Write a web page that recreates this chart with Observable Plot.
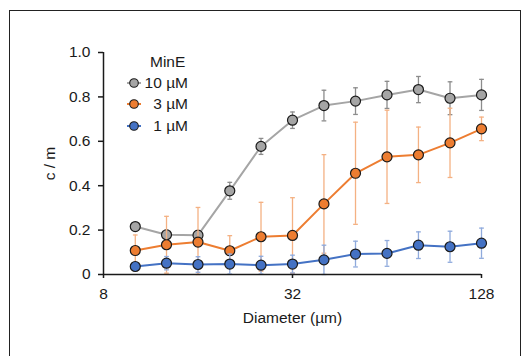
<!DOCTYPE html>
<html><head><meta charset="utf-8">
<script src="https://cdn.jsdelivr.net/npm/d3@7"></script>
<script src="https://cdn.jsdelivr.net/npm/@observablehq/plot@0.6"></script>
<style>
body{margin:0;background:#fff;font-family:"Liberation Sans",Arial,sans-serif;}
#wrap{position:relative;width:529px;height:356px;overflow:hidden;}
#frame{position:absolute;left:9px;top:10px;width:510px;height:420px;border:1.5px solid #222;pointer-events:none;}
#chart{position:absolute;left:0;top:0;}
#legend{position:absolute;left:0;top:0;font-size:15.5px;color:#1a1a1a;}
.lg{position:absolute;height:18px;line-height:18px;white-space:pre;}
</style></head>
<body><div id="wrap"><div id="chart"></div><div id="legend"></div><div id="frame"></div></div>
<script>
// Data
const diameters = [10.1, 12.7, 16, 20.2, 25.4, 32, 40.3, 50.8, 64, 80.6, 101.6, 128];
const seriesNames = ["10 µM", "3 µM", "1 µM"];
const seriesColors = ["#A5A5A5", "#ED7D31", "#4472C4"];
const errColors = ["#8C8C8C", "#F4B183", "#8FAADC"];
const y10 = [0.216, 0.179, 0.177, 0.377, 0.577, 0.695, 0.761, 0.781, 0.809, 0.833, 0.794, 0.809];
const e10 = [0.01, 0.02, 0.02, 0.038, 0.036, 0.037, 0.069, 0.06, 0.061, 0.059, 0.074, 0.07];
const y3 = [0.108, 0.134, 0.146, 0.107, 0.170, 0.176, 0.318, 0.456, 0.530, 0.539, 0.593, 0.656];
const e3 = [0.07, 0.128, 0.156, 0.068, 0.155, 0.17, 0.222, 0.23, 0.21, 0.125, 0.156, 0.053];
const y1 = [0.036, 0.051, 0.045, 0.047, 0.042, 0.047, 0.066, 0.092, 0.095, 0.132, 0.125, 0.141];
const e1 = [0.015, 0.03, 0.035, 0.045, 0.04, 0.04, 0.066, 0.058, 0.058, 0.06, 0.07, 0.068];
const xTicks = [8, 32, 128];
const yTicks = [0, 0.2, 0.4, 0.6, 0.8, 1.0];
const legendTitle = "MinE";

const values = [y10, y3, y1], errs = [e10, e3, e1];
const rows = [];
seriesNames.forEach((s, i) => diameters.forEach((d, j) => rows.push({
  series: s, idx: i, x: d, y: values[i][j],
  top: values[i][j] + errs[i][j], bot: Math.max(0, values[i][j] - errs[i][j])
})));

const capW = 0.025;
const marks = [];
seriesNames.forEach((s, i) => {
  const data = rows.filter(r => r.series === s);
  marks.push(
    Plot.ruleX(data, {x: "x", y1: "bot", y2: "top", stroke: errColors[i], strokeWidth: 1.3}),
    Plot.link(data, {x1: d => d.x * 2 ** -capW, x2: d => d.x * 2 ** capW, y1: "top", y2: "top", stroke: errColors[i], strokeWidth: 1.3}),
    Plot.link(data, {x1: d => d.x * 2 ** -capW, x2: d => d.x * 2 ** capW, y1: "bot", y2: "bot", stroke: errColors[i], strokeWidth: 1.3}),
    Plot.line(data, {x: "x", y: "y", stroke: seriesColors[i], strokeWidth: 2}),
    Plot.dot(data, {x: "x", y: "y", r: 5, fill: seriesColors[i], stroke: "#1a1a1a", strokeWidth: 1.2})
  );
});

const chart = Plot.plot({
  width: 529, height: 356,
  marginLeft: 103, marginRight: 48, marginTop: 52, marginBottom: 82,
  style: {fontFamily: "'Liberation Sans', Arial, sans-serif", fontSize: "15.5px", color: "#1a1a1a", background: "transparent"},
  x: {type: "log", base: 2, domain: [8, 128]},
  y: {domain: [0, 1]},
  marks: [
    ...marks,
    Plot.ruleX([8], {stroke: "#1a1a1a", strokeWidth: 1.5}),
    Plot.ruleY([0], {stroke: "#1a1a1a", strokeWidth: 1.5}),
    Plot.axisY({ticks: yTicks, tickFormat: d => d === 0 ? "0" : d.toFixed(1), tickSize: 5, tickPadding: 8, strokeWidth: 1.5,
      label: "c / m", labelAnchor: "center", labelArrow: "none", labelOffset: 60}),
    Plot.axisX({ticks: xTicks, tickFormat: d => String(d), tickSize: 4, tickPadding: 9, strokeWidth: 1.5,
      label: "Diameter (µm)", labelAnchor: "center", labelArrow: "none", labelOffset: 48})
  ]
});
document.getElementById("chart").append(chart);

// Legend
const lg = document.getElementById("legend");
const t = document.createElement("div");
t.className = "lg"; t.style.left = "150px"; t.style.top = (62 - 9) + "px"; t.textContent = legendTitle;
lg.append(t);
const rowY = [83, 104, 126];
seriesNames.forEach((s, i) => {
  const sym = document.createElementNS("http://www.w3.org/2000/svg", "svg");
  sym.setAttribute("width", 16); sym.setAttribute("height", 12);
  sym.style.position = "absolute"; sym.style.left = "126px"; sym.style.top = (rowY[i] - 6) + "px";
  sym.innerHTML = `<line x1="1" y1="6" x2="15" y2="6" stroke="${seriesColors[i]}" stroke-width="2"/><circle cx="8" cy="6" r="4.3" fill="${seriesColors[i]}" stroke="#1a1a1a" stroke-width="1.1"/>`;
  lg.append(sym);
  const d = document.createElement("div");
  d.className = "lg"; d.style.left = "138px"; d.style.width = "50px"; d.style.textAlign = "right";
  d.style.top = (rowY[i] - 9) + "px"; d.textContent = s;
  lg.append(d);
});
</script>
</body></html>
